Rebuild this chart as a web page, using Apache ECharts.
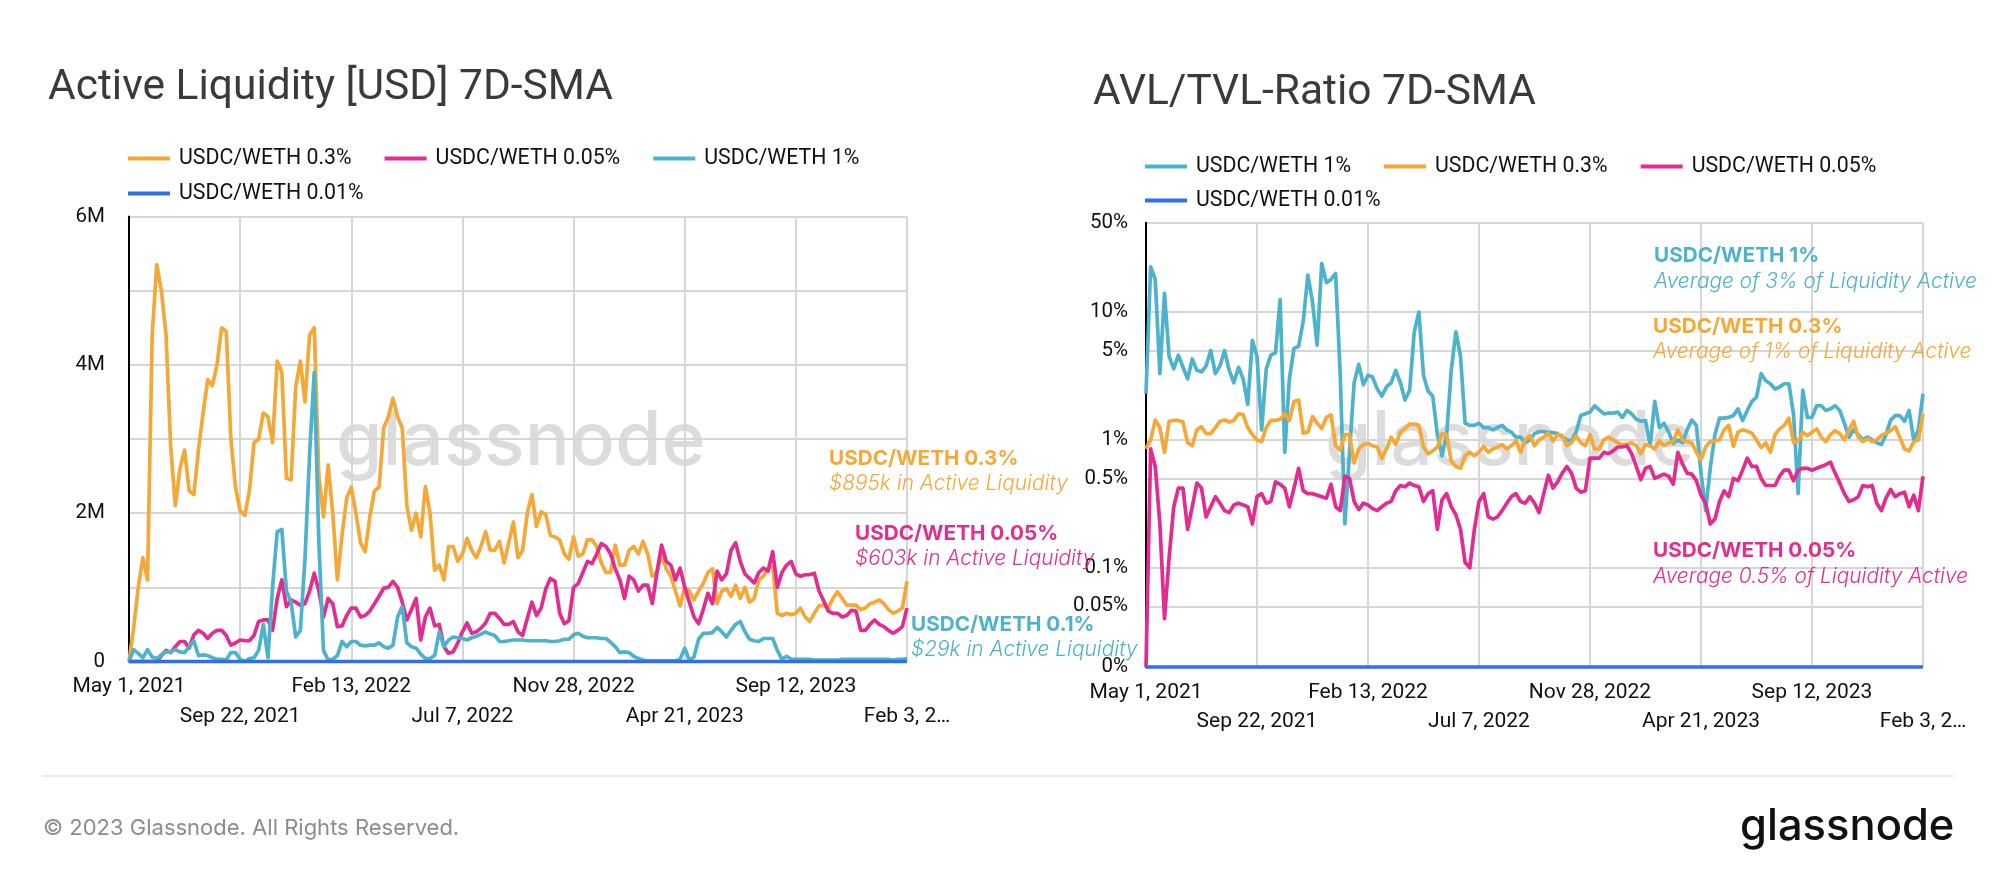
<!DOCTYPE html>
<html><head><meta charset="utf-8">
<style>html,body{margin:0;padding:0;background:#fff}#c{width:2000px;height:875px}</style>
<script src="https://cdn.jsdelivr.net/npm/echarts@6/dist/echarts.min.js"></script>
</head><body><div id="c"></div>
<script>
const xTickLabels = ["May 1, 2021","Sep 22, 2021","Feb 13, 2022","Jul 7, 2022","Nov 28, 2022","Apr 21, 2023","Sep 12, 2023","Feb 3, 2…"];
const leftYTicks = ["0","","2M","","4M","","6M"];
const rightYTicks = [0.01675,0.05,0.1,0.5,1,5,10,50];
const rightYLabels = ["0%","0.05%","0.1%","0.5%","1%","5%","10%","50%"];

// Active liquidity, USD millions, one reading every 6 days
const leftOrange = [0,.45,1,1.4,1.1,4.4,5.35,5,4.4,2.9,
2.1,2.6,2.85,2.3,2.25,2.85,3.35,3.8,3.72,4,
4.5,4.45,3,2.35,2.03,1.97,2.3,2.95,3,3.35,
3.3,2.95,4.05,3.9,2.47,2.45,3.7,4.05,3.5,4.4,
4.5,2.5,1.95,2.65,2,1.1,1.7,2.2,2.35,2,
1.6,1.48,1.95,2.3,2.35,3.15,3.3,3.55,3.3,3.15,
2.1,1.77,2,1.68,2.36,2,1.23,1.3,1.1,1.55,
1.55,1.35,1.45,1.66,1.5,1.4,1.55,1.75,1.5,1.5,
1.62,1.33,1.6,1.88,1.4,1.5,2,2.25,1.82,2.02,
1.98,1.7,1.68,1.64,1.45,1.38,1.68,1.42,1.45,1.64,
1.64,1.55,1.33,1.2,1.2,1.57,1.3,1.3,1.5,1.55,
1.45,1.62,1.45,1.15,1.2,1.45,1.25,1.15,.95,.75,
1,.95,.83,.95,1.05,1.2,1.25,.78,.95,.98,
.88,1.03,.85,1,.8,.85,1.1,1.15,1.25,1.28,
.65,.62,.65,.63,.65,.72,.6,.54,.65,.75,
.76,.72,.85,.94,.85,.76,.76,.76,.7,.72,
.78,.8,.83,.78,.7,.65,.68,.72,1.08];
const leftPink = [0,0,0,0,0,0,0,.08,.15,.12,
.2,.27,.27,.18,.36,.42,.38,.31,.38,.42,
.42,.35,.22,.25,.29,.28,.28,.35,.54,.56,
.56,.42,.85,1.1,.74,.83,.8,.76,.78,.95,
1.19,.95,.6,.85,.78,.47,.48,.62,.72,.72,
.6,.62,.68,.78,.88,.99,1,1.08,1,.8,
.56,.7,.85,.29,.6,.72,.48,.5,.2,.11,
.13,.25,.4,.52,.38,.4,.45,.52,.65,.65,
.58,.5,.5,.54,.4,.35,.58,.8,.62,.72,
.98,1.12,1.08,.65,.51,.55,1,1.05,1.2,1.35,
1.32,1.45,1.59,1.55,1.45,1.25,1.1,.85,1.15,1.1,
.95,1.03,1.03,.78,1.2,1.57,1.35,1.3,1.1,1.26,
1,.8,.6,.51,.7,.92,.78,1.22,1.1,1.18,
1.5,1.6,1.35,1.18,1.12,1.06,1.2,1.26,1.22,1.48,
1,1.2,1.3,1.35,1.18,1.15,1.17,1.17,1.19,.95,
.82,.68,.65,.65,.6,.62,.69,.68,.42,.42,
.5,.56,.5,.47,.42,.38,.42,.47,.72];
const leftTeal = [0,.16,.11,.05,.16,.06,.04,.09,.13,.13,
.16,.13,.12,.2,.28,.08,.09,.08,.05,.03,
.03,.02,.12,.12,.03,0,.04,.05,.15,.5,
.05,1,1.75,1.78,.95,.8,.33,.42,1.38,2.8,
3.9,1.6,.15,.02,.03,.08,.27,.2,.27,.27,
.22,.21,.22,.22,.25,.2,.18,.22,.6,.74,
.25,.2,.18,.1,.04,.04,.08,.4,.2,.29,
.33,.32,.31,.29,.32,.34,.37,.4,.37,.35,
.27,.27,.28,.29,.29,.29,.28,.28,.28,.28,
.28,.27,.27,.28,.3,.3,.36,.38,.34,.32,
.32,.32,.31,.31,.26,.2,.12,.13,.12,.07,
.04,.02,.01,.01,.01,.01,.01,.01,.01,.03,
.18,.02,.06,.3,.38,.38,.39,.46,.4,.33,
.42,.5,.54,.4,.3,.28,.27,.31,.31,.31,
.15,.03,.07,.03,.03,.03,.03,.03,.02,.02,
.02,.02,.02,.02,.03,.03,.03,.03,.03,.03,
.03,.03,.03,.03,.03,.02,.03,.03,.04];
const leftBlue = new Array(169).fill(0);

// AVL/TVL ratio, percent, one reading every 6 days
const rightTeal = [2.3,22.6,18,3.3,14,4.5,3.6,4.6,3.7,3,
4.3,3.5,3.4,3.8,5,3.3,3.8,5,3.5,2.8,
3.7,3,1.9,6,4.5,1.2,3.6,4.6,4.8,12.5,
.8,3,5.2,5.4,8.5,19.5,12,5.5,24,17,
18,20,3.2,.22,.8,2.8,3.9,2.7,3.2,3.1,
2.5,2.2,2.6,2.8,3.5,2.8,2.05,2.45,7,10,
3.2,2.4,2.2,1.1,.75,1.1,3.5,7,4.5,1.35,
1.3,1.3,1.35,1.25,1.25,1.2,1.25,1.3,1.2,1.15,
1.05,1.05,.95,1,1.12,1.16,1.16,1.14,1.14,1.12,
1.05,1,.98,1.15,1.55,1.6,1.65,1.85,1.72,1.6,
1.62,1.62,1.65,1.5,1.7,1.6,1.45,1.4,1.42,.9,
2,1.25,1.35,1.15,.94,1,.95,1.2,1.43,1.3,
.55,.28,.6,1.1,1.48,1.48,1.5,1.55,1.75,1.42,
1.7,2,2.15,3.3,2.9,2.75,2.5,2.6,2.75,2.75,
1.6,.38,2.45,1.5,1.5,1.85,1.85,1.7,1.75,1.85,
1.7,1.35,1.05,1.2,1.1,1,1.05,1,.95,.92,
1.1,1.43,1.55,1.55,1.4,1.7,1,1.2,2.3];
const rightOrange = [.85,1,1.43,1.25,.8,1.4,1.42,1.42,1.38,.95,
.9,1.2,1.27,1.12,1.12,1.25,1.4,1.43,1.38,1.42,
1.6,1.58,1.25,1.1,1,.97,1.25,1.42,1.42,1.45,
1.6,1.42,2,2.05,1.13,1.15,1.52,1.35,1.23,1.5,
1.57,.9,.83,1.1,1.1,.66,.85,.92,.94,.9,
.88,.72,.85,1.05,.92,1.15,1.23,1.33,1.33,1.3,
.88,.78,.82,.88,1.12,1.1,.68,.62,.6,.75,
.8,.75,.8,.89,.8,.85,.88,.92,.85,.9,
.98,.8,1,1.08,.9,1,1.05,1.13,.98,1.1,
1.08,.9,.95,1.08,.95,.9,1.1,.85,.85,1,
1.05,1,.95,.92,.93,.95,.9,.78,.92,.9,
.85,.98,.9,.95,.97,1.2,1,.97,.95,.8,
.7,.88,.97,.98,1,1.2,1.3,.89,1.15,1.2,
1.17,1.13,1,.87,.95,.8,1.1,1.22,1.3,1.48,
.95,.98,1.15,1.08,1.15,1.22,1.05,.97,1.1,1.18,
1.12,1,1.2,1.4,1.05,.97,1.02,.97,1,1.08,
1.13,1.18,1.27,1.05,.85,.82,.97,1,1.6];
const rightPink = [.01675,.85,.62,.22,.04,.12,.3,.42,.42,.2,
.3,.46,.42,.25,.3,.36,.32,.28,.27,.31,
.32,.31,.3,.22,.36,.38,.32,.33,.47,.45,
.42,.3,.42,.6,.4,.38,.38,.37,.36,.35,
.45,.3,.28,.52,.5,.33,.285,.32,.31,.29,
.28,.3,.32,.33,.4,.44,.43,.46,.44,.43,
.33,.38,.4,.2,.34,.38,.3,.26,.2,.11,
.1,.2,.33,.38,.25,.24,.25,.28,.32,.36,
.38,.33,.32,.36,.32,.27,.38,.53,.42,.47,
.55,.62,.55,.42,.39,.4,.72,.72,.72,.8,
.78,.82,.88,.88,.9,.78,.62,.49,.6,.62,
.5,.52,.54,.52,.45,.8,.65,.55,.54,.48,
.37,.32,.22,.24,.33,.4,.36,.5,.48,.58,
.72,.62,.62,.5,.44,.44,.44,.52,.58,.58,
.48,.58,.6,.6,.58,.6,.62,.64,.67,.55,
.46,.38,.33,.34,.36,.44,.43,.44,.32,.28,
.35,.41,.36,.38,.39,.3,.37,.28,.52];
const rightBlue = new Array(169).fill(0.01675);

const nameA = "USDC/WETH 0.3%", nameB = "USDC/WETH 0.05%", nameC = "USDC/WETH 1%", nameD = "USDC/WETH 0.01%";
const ORANGE = "#F5A836", PINK = "#E22C90", TEAL = "#4DB2CB", BLUE = "#2F6FED";
const FONT = "Roboto";
const categories = Array.from({length:169}, (_, i) => {
  const d = new Date(Date.UTC(2021, 4, 1 + i * 6));
  return d.toISOString().slice(0, 10);
});

// Two stacked rows of date labels: one axis per row, on the same grid
function xAxis(gridIndex, row, margin) {
  return {
    type: "category", gridIndex, position: "bottom", data: categories, boundaryGap: false,
    axisLine: {show: false}, axisTick: {show: false},
    splitLine: {show: row === 0, interval: 23, lineStyle: {color: "#d6d6d6", width: 2}},
    axisLabel: {
      interval: i => i % 48 === row * 24, margin, hideOverlap: false, color: "#111", fontFamily: FONT, fontSize: 21,
      formatter: (v, i) => xTickLabels[Math.round(i / 24)]
    }
  };
}
function line(name, color, data, xi) {
  return {
    type: "line", name, data, xAxisIndex: xi, yAxisIndex: xi, showSymbol: false, symbol: "none", clip: false, smooth: false,
    lineStyle: {color, width: 3.7, join: "round"}, itemStyle: {color}, emphasis: {disabled: true}
  };
}
function legend(left, top, names, gap) {
  return {
    left, top, data: names, orient: "horizontal", icon: "rect", itemWidth: 42, itemHeight: 4, itemGap: gap, selectedMode: false,
    padding: 0, textStyle: {fontFamily: FONT, fontSize: 21.3, color: "#111", padding: [0, 0, 0, 4]}
  };
}
function txt(x, y, text, font, fill, extra) {
  return {type: "text", z: 10, silent: true, style: Object.assign({x, y, text, font, fill, verticalAlign: "middle"}, extra || {})};
}
const head = "700 20.7px Inter", sub = "italic 300 20.9px Inter";

const chart = echarts.init(document.getElementById("c"), null, {renderer: "canvas"});
chart.setOption({
  animation: false, backgroundColor: "#fff",
  grid: [
    {left: 129, right: 1093, top: 216.5, bottom: 213.5},
    {left: 1146, right: 77, top: 222.7, bottom: 208}
  ],
  xAxis: [xAxis(0, 0, 15), xAxis(1, 0, 15), xAxis(0, 1, 45), xAxis(1, 1, 44)],
  yAxis: [
    {type: "value", gridIndex: 0, min: 0, max: 6, interval: 1,
     axisLine: {show: true, onZero: false, lineStyle: {color: "#000", width: 2}}, axisTick: {show: false},
     splitLine: {show: true, lineStyle: {color: "#d6d6d6", width: 2}},
     axisLabel: {margin: 24, color: "#111", fontFamily: FONT, fontSize: 20.5, padding: [5, 0, 0, 0], formatter: v => leftYTicks[Math.round(v)]}},
    {type: "log", gridIndex: 1, logBase: 10, min: 0.01675, max: 50,
     axisLine: {show: true, onZero: false, lineStyle: {color: "#000", width: 2}},
     axisTick: {show: false, customValues: rightYTicks},
     splitLine: {show: true, lineStyle: {color: "#d6d6d6", width: 2}},
     axisLabel: {margin: 18, color: "#111", fontFamily: FONT, fontSize: 20.5, padding: [6, 0, 0, 0], customValues: rightYTicks,
       formatter: v => { let b = 0; rightYTicks.forEach((t, i) => { if (Math.abs(Math.log10(t) - Math.log10(v)) < Math.abs(Math.log10(rightYTicks[b]) - Math.log10(v))) b = i; }); return rightYLabels[b]; }}}
  ],
  legend: [
    legend(128, 148, [nameA, nameB, nameC], 33),
    legend(128, 183, [nameD], 33),
    legend(1145, 156, [nameC, nameA, nameB], 33),
    legend(1145, 190, [nameD], 33)
  ],
  series: [
    line(nameA, ORANGE, leftOrange, 0), line(nameB, PINK, leftPink, 0), line(nameC, TEAL, leftTeal, 0), line(nameD, BLUE, leftBlue, 0),
    line(nameC, TEAL, rightTeal, 1), line(nameA, ORANGE, rightOrange, 1), line(nameB, PINK, rightPink, 1), line(nameD, BLUE, rightBlue, 1)
  ],
  graphic: [
    txt(48, 88, "Active Liquidity [USD] 7D-SMA", "400 42.5px Roboto", "#3a3a3a"),
    txt(1093, 93, "AVL/TVL-Ratio 7D-SMA", "400 42.5px Roboto", "#3a3a3a"),
    {type: "text", z: -1, silent: true, style: {x: 336, y: 442, text: "glassnode", font: "500 75px Inter", fill: "#dcdcdc", verticalAlign: "middle"}},
    {type: "text", z: -1, silent: true, style: {x: 1325, y: 442, text: "glassnode", font: "500 75px Inter", fill: "#dcdcdc", verticalAlign: "middle"}},
    txt(829, 459, "USDC/WETH 0.3%", head, ORANGE), txt(829, 484, "$895k in Active Liquidity", sub, ORANGE),
    txt(855, 534, "USDC/WETH 0.05%", head, PINK), txt(855, 559, "$603k in Active Liquidity", sub, PINK),
    txt(911, 625, "USDC/WETH 0.1%", head, TEAL), txt(911, 650, "$29k in Active Liquidity", sub, TEAL),
    txt(1654, 256, "USDC/WETH 1%", head, TEAL), txt(1654, 282, "Average of 3% of Liquidity Active", sub, TEAL),
    txt(1653, 327, "USDC/WETH 0.3%", head, ORANGE), txt(1653, 352, "Average of 1% of Liquidity Active", sub, ORANGE),
    txt(1653, 551, "USDC/WETH 0.05%", head, PINK), txt(1653, 577, "Average 0.5% of Liquidity Active", sub, PINK),
    {type: "rect", z: 1, silent: true, shape: {x: 42, y: 775, width: 1912, height: 2}, style: {fill: "#ececec"}},
    txt(43, 828, "© 2023 Glassnode. All Rights Reserved.", "400 22px Inter", "#8c8c8c"),
    txt(1740, 827, "glassnode", "500 43.5px Inter", "#111")
  ]
});
</script></body></html>
